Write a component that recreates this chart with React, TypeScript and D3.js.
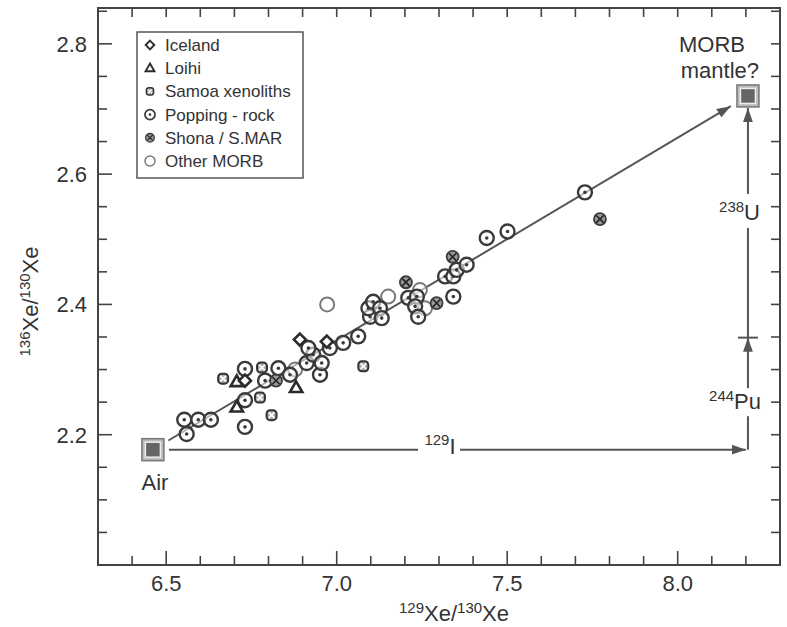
import * as d3 from "d3";
import { useEffect, useRef } from "react";

// axis ticks
const xMajor = [6.5, 7.0, 7.5, 8.0];
const yMajor = [2.2, 2.4, 2.6, 2.8];

// legend
const legendKeys = ["iceland", "loihi", "samoa", "popping", "shona", "other"];
const legendNames = ["Iceland", "Loihi", "Samoa xenoliths", "Popping - rock", "Shona / S.MAR", "Other MORB"];

// data points [129Xe/130Xe, 136Xe/130Xe]
const iceland = [[6.892, 2.346], [6.971, 2.343], [6.731, 2.283]];
const loihi = [[6.707, 2.281], [6.707, 2.242], [6.881, 2.272]];
const samoa = [[6.667, 2.286], [6.781, 2.303], [6.775, 2.257], [6.809, 2.230], [7.078, 2.305]];
const popping = [
  [6.553, 2.223], [6.594, 2.223], [6.631, 2.223], [6.560, 2.201], [6.731, 2.212],
  [6.731, 2.253], [6.731, 2.301], [6.829, 2.302], [6.863, 2.292], [6.790, 2.283],
  [6.912, 2.310], [6.931, 2.323], [6.917, 2.333], [6.951, 2.292], [6.956, 2.310],
  [6.980, 2.333], [7.019, 2.341], [7.063, 2.351], [7.098, 2.381], [7.093, 2.394],
  [7.107, 2.404], [7.127, 2.394], [7.132, 2.379], [7.210, 2.410], [7.235, 2.412],
  [7.230, 2.397], [7.239, 2.381], [7.318, 2.443], [7.342, 2.443], [7.352, 2.453],
  [7.381, 2.461], [7.342, 2.412], [7.440, 2.502], [7.501, 2.512], [7.728, 2.572]
];
const shona = [[6.822, 2.283], [7.203, 2.434], [7.293, 2.402], [7.340, 2.473], [7.772, 2.531]];
const otherMorb = [[7.151, 2.412], [7.244, 2.422], [7.259, 2.394], [6.972, 2.400], [6.878, 2.300]];

// end members and evolution steps
const air = [6.461, 2.177];
const morbMantle = [8.206, 2.720];
const puStep = 2.349;

export default function App() {
  const ref = useRef<SVGSVGElement>(null);
  const W = 787, H = 627;
  const m = { left: 98, right: 7, top: 8, bottom: 62 };

  useEffect(() => {
    drawChart();
  }, []);

  function symbol(g: any, type: string, cx: number, cy: number, k: number) {
    const s = g.append("g").attr("transform", "translate(" + cx + "," + cy + ")");
    if (type === "iceland") {
      const r = 6 * k;
      s.append("path").attr("d", `M0,${-r}L${r},0L0,${r}L${-r},0Z`)
        .attr("fill", "#fff").attr("stroke", "#2b2b2b").attr("stroke-width", 2.6 * k);
    } else if (type === "loihi") {
      const r = 6.5 * k;
      s.append("path").attr("d", `M0,${-r}L${r * 0.95},${r * 0.65}L${-r * 0.95},${r * 0.65}Z`)
        .attr("fill", "#fff").attr("stroke", "#2b2b2b").attr("stroke-width", 2.6 * k);
    } else if (type === "samoa") {
      const r = 5 * k;
      s.append("rect").attr("x", -r).attr("y", -r).attr("width", 2 * r).attr("height", 2 * r)
        .attr("rx", 3.5 * k).attr("fill", "#aaa").attr("stroke", "#333").attr("stroke-width", 2 * k);
      s.append("path").attr("d", `M${-r * 0.55},${-r * 0.55}L${r * 0.55},${r * 0.55}M${r * 0.55},${-r * 0.55}L${-r * 0.55},${r * 0.55}`)
        .attr("stroke", "#fff").attr("stroke-width", 1.6 * k);
    } else if (type === "popping") {
      s.append("circle").attr("r", 7 * k).attr("fill", "#fff").attr("fill-opacity", 0.55)
        .attr("stroke", "#3a3a3a").attr("stroke-width", 2.4 * k);
      s.append("circle").attr("r", 1.8 * k).attr("fill", "#3a3a3a");
    } else if (type === "shona") {
      const r = 6 * k;
      s.append("circle").attr("r", r).attr("fill", "#999").attr("stroke", "#3a3a3a").attr("stroke-width", 1.8 * k);
      s.append("path").attr("d", `M${-r * 0.6},${-r * 0.6}L${r * 0.6},${r * 0.6}M${r * 0.6},${-r * 0.6}L${-r * 0.6},${r * 0.6}`)
        .attr("stroke", "#222").attr("stroke-width", 1.6 * k);
    } else {
      s.append("circle").attr("r", 7 * k).attr("fill", "#fff").attr("fill-opacity", 0.55)
        .attr("stroke", "#7a7a7a").attr("stroke-width", 2 * k);
    }
  }

  function supText(g: any, x: number, y: number, sup: string, main: string, size: number, anchor: string) {
    const t = g.append("text").attr("x", x).attr("y", y).attr("text-anchor", anchor)
      .attr("font-size", size).attr("fill", "#333");
    t.append("tspan").attr("font-size", size * 0.68).attr("dy", -size * 0.38).text(sup);
    t.append("tspan").attr("dy", size * 0.38).text(main);
    return t;
  }

  function drawChart() {
    const svg = d3.select(ref.current);
    svg.selectAll("*").remove();
    const x = d3.scaleLinear().domain([6.3, 8.3]).range([m.left, W - m.right]);
    const y = d3.scaleLinear().domain([2.0, 2.855]).range([H - m.bottom, m.top]);

    svg.append("defs").append("marker").attr("id", "arr")
      .attr("viewBox", "0 0 10 10").attr("refX", 10).attr("refY", 5)
      .attr("markerWidth", 14).attr("markerHeight", 14).attr("markerUnits", "userSpaceOnUse")
      .attr("orient", "auto")
      .append("path").attr("d", "M0,1.5L10,5L0,8.5Z").attr("fill", "#555");

    const xMinor = d3.range(6.4, 8.25, 0.1);
    const yMinor = d3.range(2.05, 2.86, 0.05);
    const x0 = m.left, x1 = W - m.right, y0 = H - m.bottom, y1 = m.top;
    const ax = svg.append("g").attr("stroke", "#444").attr("stroke-width", 1.6);
    xMinor.forEach(v => {
      const big = xMajor.some(t => Math.abs(t - v) < 1e-6);
      ax.append("line").attr("x1", x(v)).attr("x2", x(v)).attr("y1", y0).attr("y2", y0 - (big ? 14 : 9));
      ax.append("line").attr("x1", x(v)).attr("x2", x(v)).attr("y1", y1).attr("y2", y1 + 9);
    });
    yMinor.forEach(v => {
      const big = yMajor.some(t => Math.abs(t - v) < 1e-6);
      ax.append("line").attr("x1", x0).attr("x2", x0 + (big ? 14 : 9)).attr("y1", y(v)).attr("y2", y(v));
      ax.append("line").attr("x1", x1).attr("x2", x1 - 9).attr("y1", y(v)).attr("y2", y(v));
    });
    svg.append("rect").attr("x", x0).attr("y", y1).attr("width", x1 - x0).attr("height", y0 - y1)
      .attr("fill", "none").attr("stroke", "#444").attr("stroke-width", 2);

    const lab = svg.append("g").attr("font-size", 22).attr("fill", "#333");
    xMajor.forEach(v => {
      lab.append("text").attr("x", x(v)).attr("y", y0 + 26).attr("text-anchor", "middle").text(d3.format(".1f")(v));
    });
    yMajor.forEach(v => {
      lab.append("text").attr("x", x0 - 11).attr("y", y(v) + 8).attr("text-anchor", "end").text(d3.format(".1f")(v));
    });

    // axis titles
    const xt = svg.append("text").attr("x", (x0 + x1) / 2 + 15).attr("y", 621).attr("text-anchor", "middle")
      .attr("font-size", 22).attr("fill", "#333");
    xt.append("tspan").attr("font-size", 15).attr("dy", -8).text("129");
    xt.append("tspan").attr("dy", 8).text("Xe/");
    xt.append("tspan").attr("font-size", 15).attr("dy", -8).text("130");
    xt.append("tspan").attr("dy", 8).text("Xe");
    const yt = svg.append("text").attr("transform", `translate(38,${(y0 + y1) / 2 + 15}) rotate(-90)`)
      .attr("text-anchor", "middle").attr("font-size", 22).attr("fill", "#333");
    yt.append("tspan").attr("font-size", 15).attr("dy", -8).text("136");
    yt.append("tspan").attr("dy", 8).text("Xe/");
    yt.append("tspan").attr("font-size", 15).attr("dy", -8).text("130");
    yt.append("tspan").attr("dy", 8).text("Xe");

    // evolution lines
    const ax0 = x(air[0]), ay0 = y(air[1]);
    const mx = x(morbMantle[0]), my = y(morbMantle[1]);
    const ln = svg.append("g").attr("stroke", "#555").attr("stroke-width", 2).attr("fill", "none");
    const len = Math.hypot(mx - ax0, my - ay0);
    const ux = (mx - ax0) / len, uy = (my - ay0) / len;
    ln.append("line").attr("x1", ax0 + ux * 18).attr("y1", ay0 + uy * 18)
      .attr("x2", mx - ux * 20).attr("y2", my - uy * 20).attr("marker-end", "url(#arr)");
    const iLab = 440;
    ln.append("line").attr("x1", ax0 + 16).attr("x2", iLab - 22).attr("y1", ay0).attr("y2", ay0);
    ln.append("line").attr("x1", iLab + 20).attr("x2", mx - 2).attr("y1", ay0).attr("y2", ay0).attr("marker-end", "url(#arr)");
    const pu = y(puStep);
    const puLab = y(2.253), uLab = y(2.542);
    ln.append("line").attr("x1", mx).attr("x2", mx).attr("y1", ay0).attr("y2", puLab + 16);
    ln.append("line").attr("x1", mx).attr("x2", mx).attr("y1", puLab - 12).attr("y2", pu).attr("marker-end", "url(#arr)");
    ln.append("line").attr("x1", mx - 10).attr("x2", mx + 10).attr("y1", pu).attr("y2", pu);
    ln.append("line").attr("x1", mx).attr("x2", mx).attr("y1", pu).attr("y2", uLab + 16);
    ln.append("line").attr("x1", mx).attr("x2", mx).attr("y1", uLab - 18).attr("y2", my + 12).attr("marker-end", "url(#arr)");

    supText(svg, iLab, ay0 + 4, "129", "I", 22, "middle");
    supText(svg, mx + 13, puLab + 9, "244", "Pu", 22, "end");
    supText(svg, mx + 12, uLab + 8, "238", "U", 22, "end");

    // data
    const pts = svg.append("g");
    otherMorb.forEach(d => symbol(pts, "other", x(d[0]), y(d[1]), 1));
    popping.forEach(d => symbol(pts, "popping", x(d[0]), y(d[1]), 1));
    samoa.forEach(d => symbol(pts, "samoa", x(d[0]), y(d[1]), 1));
    shona.forEach(d => symbol(pts, "shona", x(d[0]), y(d[1]), 1));
    loihi.forEach(d => symbol(pts, "loihi", x(d[0]), y(d[1]), 1));
    iceland.forEach(d => symbol(pts, "iceland", x(d[0]), y(d[1]), 1));

    // end member squares
    [air, morbMantle].forEach(d => {
      const g = svg.append("g").attr("transform", `translate(${x(d[0])},${y(d[1])})`);
      g.append("rect").attr("x", -11).attr("y", -11).attr("width", 22).attr("height", 22)
        .attr("fill", "#bbb").attr("stroke", "#777").attr("stroke-width", 1.5);
      g.append("rect").attr("x", -7.5).attr("y", -7.5).attr("width", 15).attr("height", 15)
        .attr("fill", "#666").attr("stroke", "#eee").attr("stroke-width", 1.5);
    });
    svg.append("text").attr("x", ax0 + 2).attr("y", ay0 + 40).attr("text-anchor", "middle")
      .attr("font-size", 22).attr("fill", "#333").text("Air");
    svg.append("text").attr("x", mx - 36).attr("y", my - 44).attr("text-anchor", "middle")
      .attr("font-size", 22).attr("fill", "#333").text("MORB");
    svg.append("text").attr("x", mx - 28).attr("y", my - 18).attr("text-anchor", "middle")
      .attr("font-size", 22).attr("fill", "#333").text("mantle?");

    // legend
    const lg = svg.append("g").attr("transform", "translate(137,32)");
    lg.append("rect").attr("width", 166).attr("height", 146).attr("fill", "#fff")
      .attr("stroke", "#555").attr("stroke-width", 1.5);
    legendKeys.forEach((k, i) => {
      const cy = 13 + i * 23.2;
      symbol(lg, k, 13, cy, 0.72);
      lg.append("text").attr("x", 28).attr("y", cy + 6).attr("font-size", 17).attr("fill", "#333").text(legendNames[i]);
    });
  }

  return (
    <svg ref={ref} width={W} height={H} style={{ position: "absolute", left: 0, top: 0, fontFamily: "'Liberation Sans', Arial, sans-serif", background: "#fff" }} />
  );
}
